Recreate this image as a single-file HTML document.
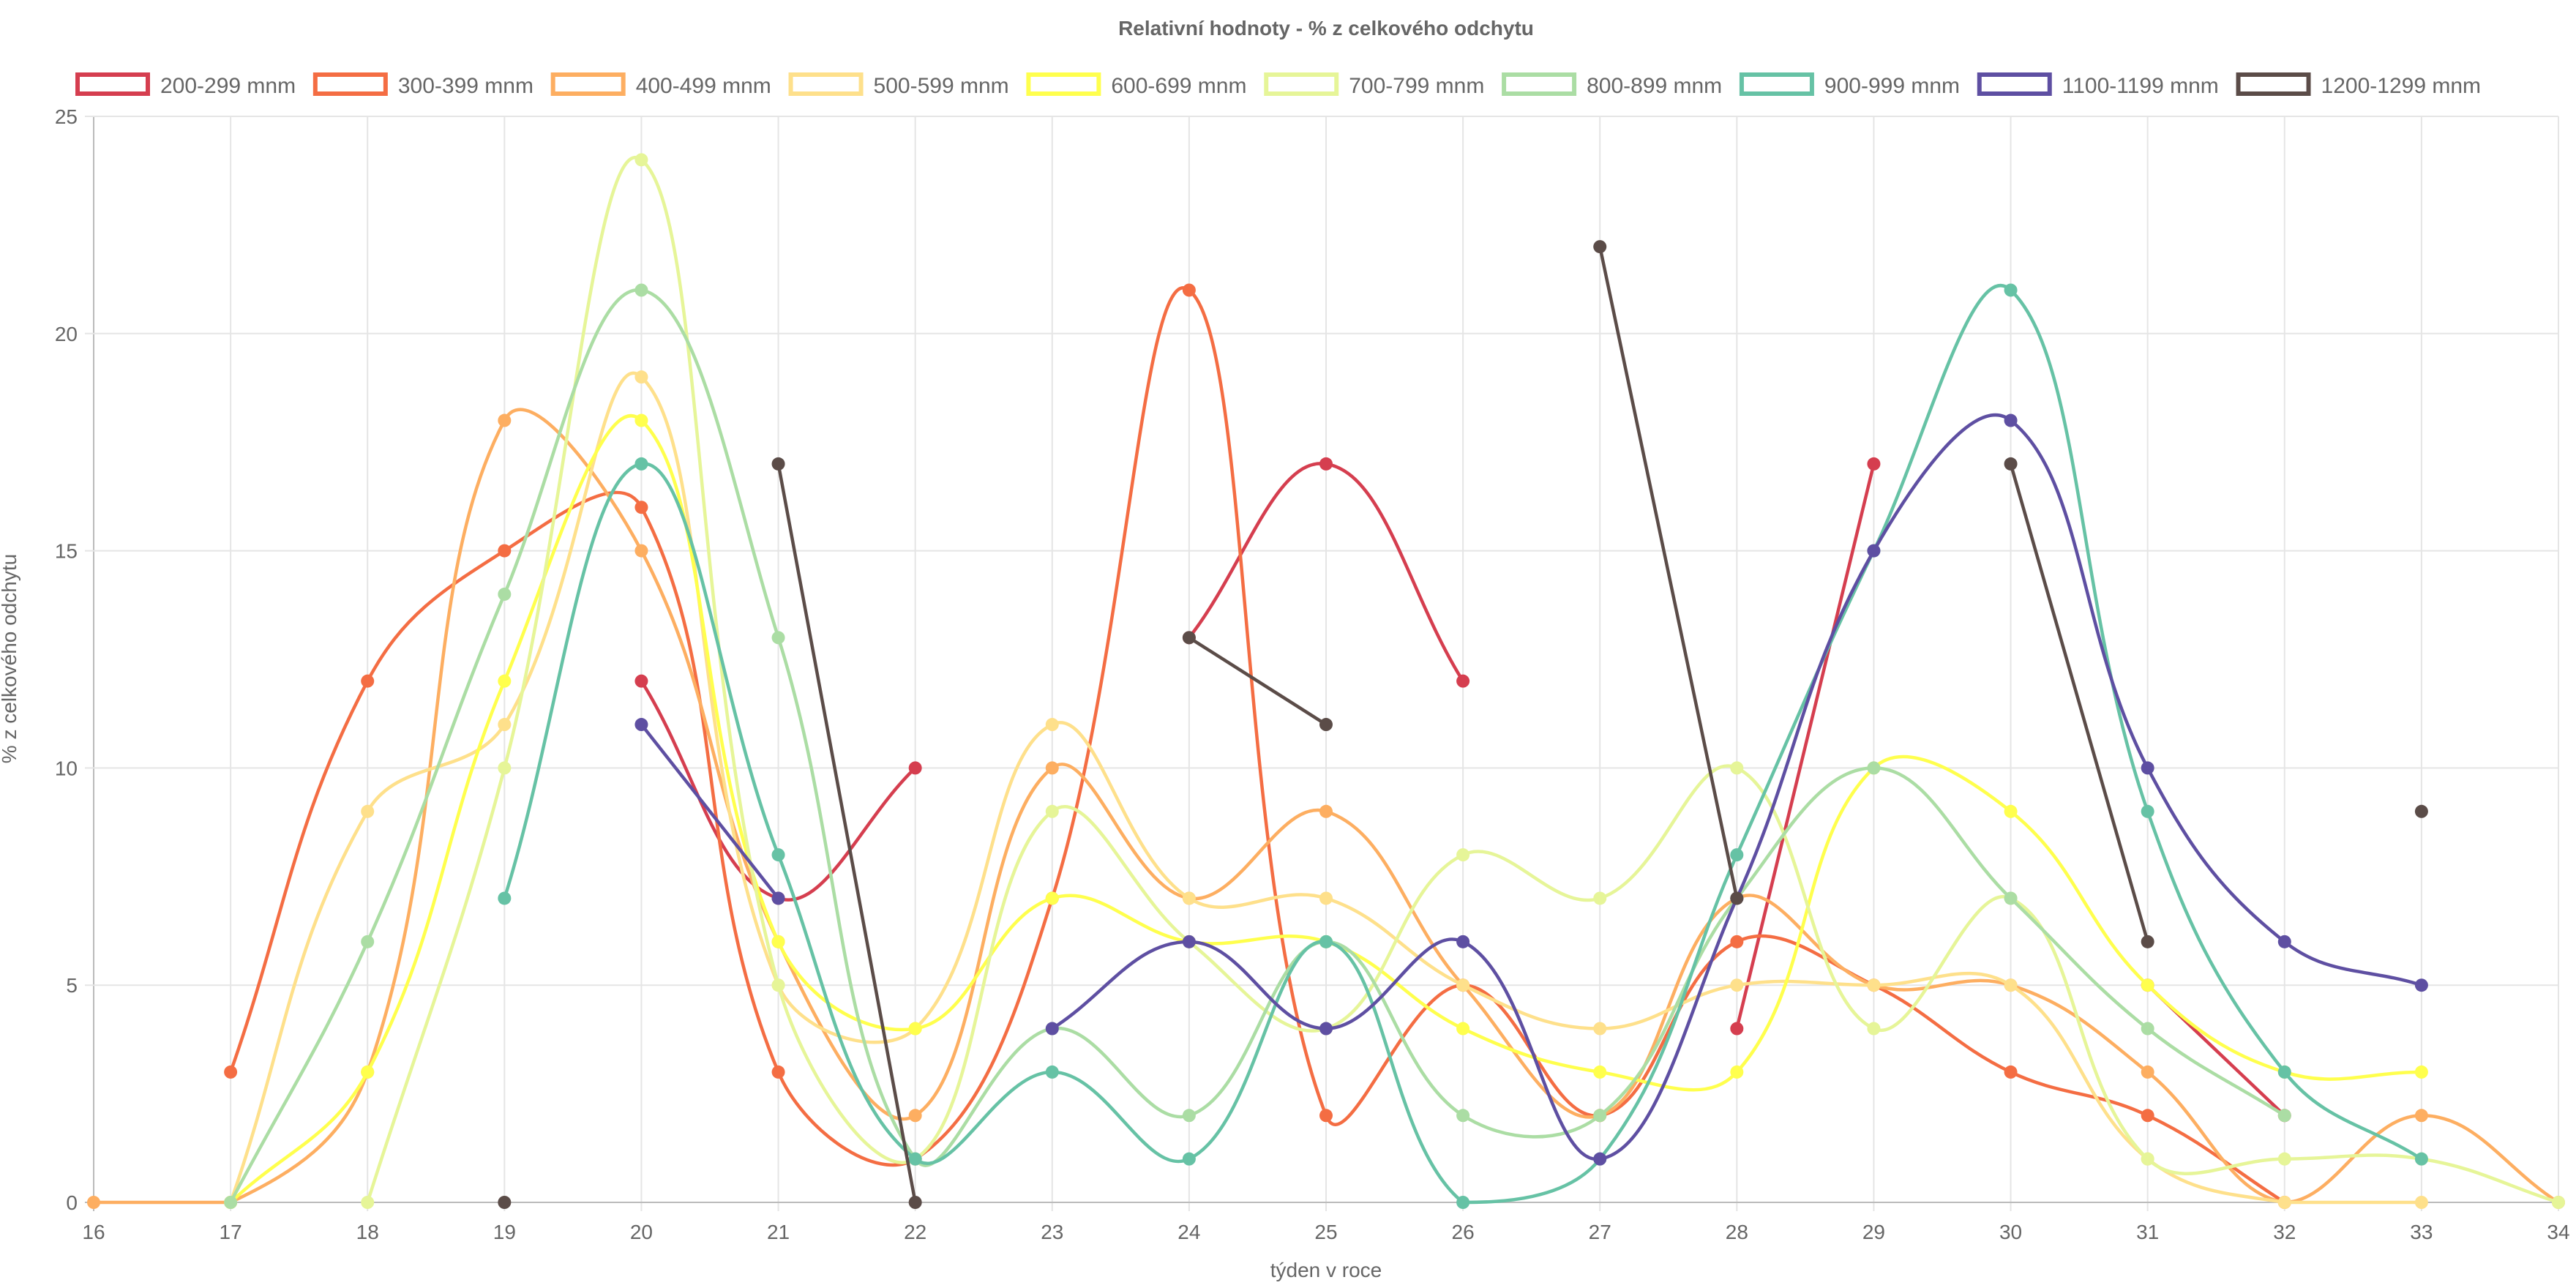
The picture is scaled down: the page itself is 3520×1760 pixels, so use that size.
<!DOCTYPE html>
<html><head><meta charset="utf-8"><style>
html,body{margin:0;padding:0;background:#fff;width:3520px;height:1760px;overflow:hidden}
svg{display:block;font-family:"Liberation Sans",sans-serif}
</style></head><body>
<svg id="chart" width="3520" height="1760" viewBox="0 0 3520 1760" xmlns="http://www.w3.org/2000/svg">
<text x="1812" y="48" text-anchor="middle" font-size="28" font-weight="bold" fill="#666">Relativní hodnoty - % z celkového odchytu</text>
<g id="legend"></g>
<g id="grid"></g>
<g id="series"></g>
<text transform="translate(22,900) rotate(-90)" text-anchor="middle" font-size="28" fill="#666">% z celkového odchytu</text>
<text x="1812" y="1745" text-anchor="middle" font-size="28" fill="#666">týden v roce</text>
</svg>
<script>
const weeks=[16,17,18,19,20,21,22,23,24,25,26,27,28,29,30,31,32,33,34];
const yTicks=[0,5,10,15,20,25];
const seriesNames=["200-299 mnm","300-399 mnm","400-499 mnm","500-599 mnm","600-699 mnm","700-799 mnm","800-899 mnm","900-999 mnm","1100-1199 mnm","1200-1299 mnm"];
const seriesColors=["#d53e4f","#f46d43","#fdae61","#fee08b","#ffff4d","#e6f598","#abdda4","#66c2a5","#5e4fa2","#5b4c48"];
const N=null;
const s200=[N,N,N,N,12,7,10,N,13,17,12,N,4,17,N,5,2,N,N];
const s300=[N,3,12,15,16,3,1,7,21,2,5,2,6,5,3,2,0,N,N];
const s400=[0,0,3,18,15,6,2,10,7,9,5,2,7,5,5,3,0,2,0];
const s500=[N,0,9,11,19,5,4,11,7,7,5,4,5,5,5,1,0,0,N];
const s600=[N,0,3,12,18,6,4,7,6,6,4,3,3,10,9,5,3,3,N];
const s700=[N,N,0,10,24,5,1,9,6,4,8,7,10,4,7,1,1,1,0];
const s800=[N,0,6,14,21,13,1,4,2,6,2,2,7,10,7,4,2,N,N];
const s900=[N,N,N,7,17,8,1,3,1,6,0,1,8,15,21,9,3,1,N];
const s1100=[N,N,N,N,11,7,N,4,6,4,6,1,7,15,18,10,6,5,N];
const s1200=[N,N,N,0,N,17,0,N,13,11,N,22,7,N,17,6,N,9,N];
const allSeries=[s200,s300,s400,s500,s600,s700,s800,s900,s1100,s1200];

const L=128,R=3496,T=159,B=1643;
const xS=w=>L+(w-weeks[0])/(weeks[weeks.length-1]-weeks[0])*(R-L);
const yS=v=>B-v/25*(B-T);
const NS="http://www.w3.org/2000/svg";
function mk(tag,attrs,parent){const e=document.createElementNS(NS,tag);for(const k in attrs)e.setAttribute(k,attrs[k]);parent.appendChild(e);return e;}

const grid=document.getElementById('grid');
weeks.forEach((w,i)=>{
  const l=mk('line',{x1:xS(w),x2:xS(w),y1:T,y2:B+12,stroke:i==0?'#bbb':'#e5e5e5','stroke-width':2},grid);
  
  
  const t=mk('text',{x:xS(w),y:B+50,'text-anchor':'middle','font-size':28,fill:'#666'},grid);
  t.textContent=w;
  
  
});
yTicks.forEach(v=>{
  const l=mk('line',{x1:L-12,x2:R,y1:yS(v),y2:yS(v),stroke:v==0?'#bbb':'#e5e5e5','stroke-width':2},grid);
  
  
  const t=mk('text',{x:L-22,y:yS(v)+10,'text-anchor':'end','font-size':28,fill:'#666'},grid);
  t.textContent=v;
  
  
});

// legend
const leg=document.getElementById('legend');
const ctx=document.createElement('canvas').getContext('2d');ctx.font='30px "Liberation Sans"';
const boxW=102,boxH=32,gap=14;
const legStart=103,legEnd=3390;
let widths=seriesNames.map(n=>boxW+gap+ctx.measureText(n).width);
let sum=widths.reduce((a,b)=>a+b,0);
const itemPad=(legEnd-legStart-sum)/(widths.length-1);
let lx=legStart;
seriesNames.forEach((n,i)=>{
  const g=mk('g',{},leg);
  
  
  mk('rect',{x:lx+3,y:102,width:boxW-6,height:boxH-6,fill:'#fff',stroke:seriesColors[i],'stroke-width':6},g);
  const t=mk('text',{x:lx+boxW+gap,y:127,'font-size':30,fill:'#666'},g);
  t.textContent=n;
  lx+=widths[i]+itemPad;
});

// series
const sg=document.getElementById('series');
const tension=0.4;
allSeries.forEach((data,si)=>{
  const col=seriesColors[si];
  let segs=[],cur=[];
  data.forEach((v,i)=>{if(v===null){if(cur.length)segs.push(cur);cur=[];}else cur.push({x:xS(weeks[i]),y:yS(v)});});
  if(cur.length)segs.push(cur);
  const g=mk('g',{},sg);
  
  
  segs.forEach(pts=>{
    if(pts.length>1){
      const cps=pts.map((p,i)=>{
        const a=pts[i-1]||p,c=pts[i+1]||p;
        const d01=Math.hypot(p.x-a.x,p.y-a.y),d12=Math.hypot(c.x-p.x,c.y-p.y);
        let s01=d01/(d01+d12),s12=d12/(d01+d12);if(isNaN(s01))s01=0;if(isNaN(s12))s12=0;
        const fa=tension*s01,fb=tension*s12;
        const cl=y=>Math.max(T,Math.min(B,y));
        return {px:p.x-fa*(c.x-a.x),py:cl(p.y-fa*(c.y-a.y)),nx:p.x+fb*(c.x-a.x),ny:cl(p.y+fb*(c.y-a.y))};
      });
      let d='M'+pts[0].x+','+pts[0].y;
      for(let i=1;i<pts.length;i++)d+=' C'+cps[i-1].nx+','+cps[i-1].ny+' '+cps[i].px+','+cps[i].py+' '+pts[i].x+','+pts[i].y;
      const p=mk('path',{d:d,fill:'none',stroke:col,'stroke-width':4.5},g);
      
      
    }
    pts.forEach(p=>{
      const c=mk('circle',{cx:p.x,cy:p.y,r:9,fill:col},g);
      
      
    });
  });
});
</script>
</body></html>
